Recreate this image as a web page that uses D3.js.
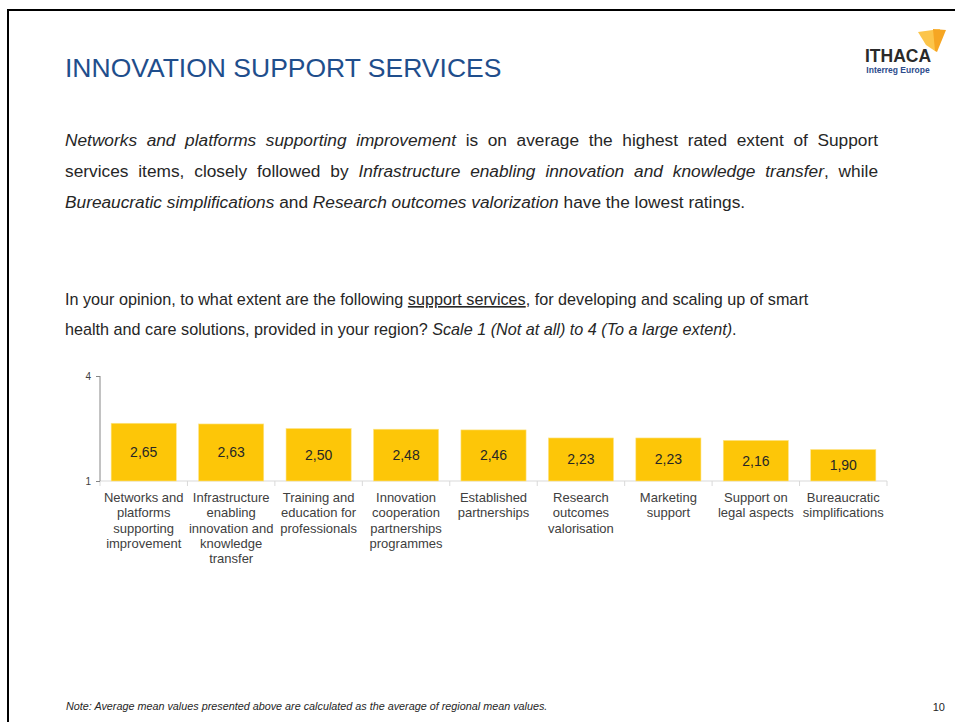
<!DOCTYPE html>
<html lang="en">
<head>
<meta charset="UTF-8">
<title>Innovation support services</title>
<style>
  body { margin: 0; background: #fff; }
  svg { display: block; font-family: "Liberation Sans", Arial, sans-serif; }
</style>
</head>
<body>
<script src="https://cdn.jsdelivr.net/npm/d3@7"></script>
<script>
// data
var labelLines = [
  ["Networks and", "platforms", "supporting", "improvement"],
  ["Infrastructure", "enabling", "innovation and", "knowledge", "transfer"],
  ["Training and", "education for", "professionals"],
  ["Innovation", "cooperation", "partnerships", "programmes"],
  ["Established", "partnerships"],
  ["Research", "outcomes", "valorisation"],
  ["Marketing", "support"],
  ["Support on", "legal aspects"],
  ["Bureaucratic", "simplifications"]
];
var values = [2.65, 2.63, 2.50, 2.48, 2.46, 2.23, 2.23, 2.16, 1.90];
var yTicks = [1, 4];

// intro text, each line as pieces [text, italic]
var introLines = [
  [["Networks and platforms supporting improvement", true], [" is on average the highest rated extent of Support", false]],
  [["services items, closely followed by ", false], ["Infrastructure enabling innovation and knowledge transfer", true], [", while", false]],
  [["Bureaucratic simplifications", true], [" and ", false], ["Research outcomes valorization", true], [" have the lowest ratings.", false]]
];

var W = 955, H = 722;
var svg = d3.select("body").append("svg").attr("width", W).attr("height", H);

// page frame
svg.append("line").attr("x1", 8).attr("x2", W).attr("y1", 10).attr("y2", 10)
  .attr("stroke", "#000").attr("stroke-width", 2);
svg.append("line").attr("x1", 8).attr("x2", 8).attr("y1", 9).attr("y2", H)
  .attr("stroke", "#000").attr("stroke-width", 2);

// title
svg.append("text").attr("x", 65).attr("y", 77)
  .attr("font-size", 26.5).attr("fill", "#1f4e8c")
  .text("INNOVATION SUPPORT SERVICES");

// logo
var logo = svg.append("g");
logo.append("polygon").attr("points", "918,32 940,29 935,51 926,45").attr("fill", "#fcc54a");
logo.append("polygon").attr("points", "933,29 946,30 937,52 935,51").attr("fill", "#f6a623");
logo.append("text").attr("x", 898).attr("y", 62).attr("text-anchor", "middle")
  .attr("font-size", 17.5).attr("font-weight", "bold").attr("fill", "#2a2a2a").text("ITHACA");
logo.append("text").attr("x", 898).attr("y", 73).attr("text-anchor", "middle")
  .attr("font-size", 8.5).attr("font-weight", "bold").attr("fill", "#2c4b8c").text("Interreg Europe");

// justified text helper
function textLine(x, y, size, pieces, width) {
  var t = svg.append("text").attr("x", x).attr("y", y)
    .attr("font-size", size).attr("fill", "#262626").attr("xml:space", "preserve");
  pieces.forEach(function (p) {
    var s = t.append("tspan").text(p[0]);
    if (p[1]) s.attr("font-style", "italic");
    if (p[2]) s.attr("text-decoration", "underline");
  });
  if (width) {
    var len = t.node().getComputedTextLength();
    var spaces = pieces.map(function (p) { return p[0]; }).join("").split(" ").length - 1;
    t.attr("word-spacing", (width - len) / spaces);
  }
  return t;
}

introLines.forEach(function (l, i) {
  textLine(65, 146 + i * 31, 17.3, l, i < 2 ? 813 : null);
});

textLine(65, 305, 16.2, [["In your opinion, to what extent are the following ", false], ["support services", false, true],
  [", for developing and scaling up of smart", false]]);
textLine(65, 335, 16.2, [["health and care solutions, provided in your region? ", false],
  ["Scale 1 (Not at all) to 4 (To a large extent)", true], [".", false]]);

// chart
var x = d3.scaleBand().domain(d3.range(values.length)).range([100, 887]).paddingInner(0.255).paddingOuter(0.1275);
var y = d3.scaleLinear().domain([1, 4]).range([481, 376]);

// x axis baseline and band separators
var xb = d3.scaleBand().domain(d3.range(values.length)).range([100, 887]);
svg.append("line").attr("x1", 100).attr("x2", 887).attr("y1", 481).attr("y2", 481)
  .attr("stroke", "#d9d9d9");
svg.selectAll(".sep").data(d3.range(values.length + 1)).enter().append("line")
  .attr("x1", function (d) { return 100 + d * xb.step(); })
  .attr("x2", function (d) { return 100 + d * xb.step(); })
  .attr("y1", 481).attr("y2", 486).attr("stroke", "#d9d9d9");

svg.selectAll(".bar").data(values).enter().append("rect")
  .attr("x", function (d, i) { return x(i); })
  .attr("width", x.bandwidth())
  .attr("y", function (d) { return y(d); })
  .attr("height", function (d) { return y(1) - y(d); })
  .attr("fill", "#fdc608").attr("stroke", "#fde58a").attr("stroke-width", 0.6);

svg.selectAll(".val").data(values).enter().append("text")
  .attr("x", function (d, i) { return x(i) + x.bandwidth() / 2; })
  .attr("y", function (d) { return (y(d) + y(1)) / 2 + 5; })
  .attr("text-anchor", "middle").attr("font-size", 14).attr("fill", "#262626")
  .text(function (d) { return d.toFixed(2).replace(".", ","); });

// y axis
var yAxis = svg.append("g").attr("transform", "translate(100,0)")
  .call(d3.axisLeft(y).tickValues(yTicks).tickSize(4).tickFormat(d3.format("d")));
yAxis.select(".domain").attr("stroke", "#868686").attr("d", "M0,376V481");
yAxis.selectAll(".tick line").attr("stroke", "#868686");
yAxis.selectAll(".tick text").attr("font-size", 10).attr("fill", "#404040")
  .attr("font-family", "Liberation Sans, Arial, sans-serif").attr("x", -9);

// category labels
labelLines.forEach(function (lines, i) {
  var t = svg.append("text").attr("text-anchor", "middle").attr("font-size", 13).attr("fill", "#404040");
  lines.forEach(function (s, j) {
    t.append("tspan").attr("x", xb(i) + xb.bandwidth() / 2).attr("y", 502 + j * 15.3).text(s);
  });
});

// footer
svg.append("text").attr("x", 66).attr("y", 710).attr("font-size", 10.8).attr("font-style", "italic")
  .attr("fill", "#262626").text("Note: Average mean values presented above are calculated as the average of regional mean values.");
svg.append("text").attr("x", 945).attr("y", 711).attr("text-anchor", "end").attr("font-size", 11)
  .attr("fill", "#262626").text("10");
</script>
</body>
</html>
